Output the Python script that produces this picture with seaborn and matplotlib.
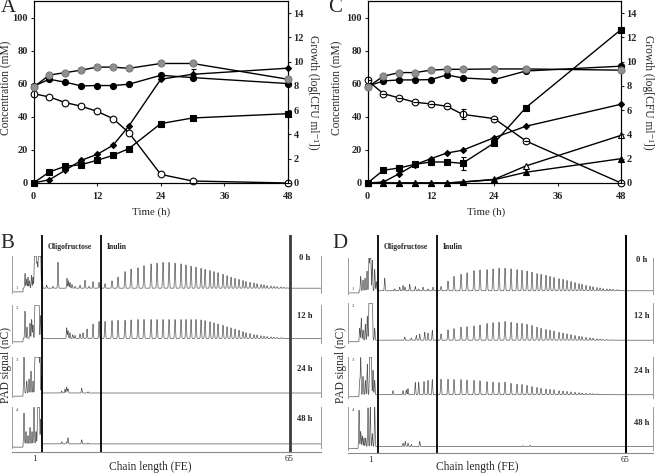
import numpy as np
import pandas as pd
import matplotlib
matplotlib.use("Agg")
import matplotlib.pyplot as plt
import seaborn as sns

sns.set_style("ticks")
plt.rcParams['font.family'] = ['Liberation Serif', 'DejaVu Serif']

# ---------------- kinetics data (panels A and C) ----------------
time_h = [0, 3, 6, 9, 12, 15, 18, 24, 30, 48]
time_ticks = [0, 12, 24, 36, 48]
conc_ticks = [0, 20, 40, 60, 80, 100]
growth_ticks = [0, 2, 4, 6, 8, 10, 12, 14]

A_growth = [7.9, 8.9, 9.1, 9.3, 9.55, 9.55, 9.45, 9.85, 9.85, 8.55]
A_circle = [58.5, 62.7, 60.9, 58.7, 58.9, 58.9, 59.7, 65.1, 63.7, 60.1]
A_square = [0, 6.7, 10.1, 11.1, 13.7, 16.7, 20.8, 35.9, 39.3, 41.9]
A_diamond = [0, 2.0, 7.7, 13.7, 17.3, 22.8, 34.5, 62.7, 65.7, 69.4]
A_open = [54, 52, 48.6, 46.4, 43.3, 38.9, 30.4, 5.2, 1.2, 0]
A_diamond_err = [0, 0, 0, 0, 0, 0, 0, 0, 3.0, 0]

C_growth = [7.9, 8.8, 9.1, 9.1, 9.3, 9.37, 9.37, 9.4, 9.4, 9.3]
C_circle = [58.5, 61.7, 62.3, 62.3, 62.5, 65.3, 63.5, 62.5, 67.7, 70.6]
C_open = [62, 54, 51.4, 48.8, 47.8, 46.4, 41.5, 38.9, 25.4, 0]
C_square = [0, 7.7, 9.1, 11.3, 12.7, 12.7, 11.9, 24.2, 45.6, 92.7]
C_diamond = [0, 0.6, 5.6, 11.1, 14.7, 18.1, 19.8, 27.4, 34.3, 47.6]
C_open_tri = [0, 0, 0, 0, 0, 0, 0.6, 2.2, 10.3, 28.8]
C_tri = [0, 0, 0, 0, 0, 0, 0.6, 2.0, 6.5, 14.7]
C_open_err = [0, 0, 0, 0, 0, 0, 3.0, 0, 0, 0]
C_square_err = [0, 0, 0, 0, 0, 0, 4.0, 0, 0, 0]

# ---------------- chromatogram data (panels B and D) ----------------
# retention coordinate (arbitrary units), chain-length marks
fe_tick_pos = [22.5, 277.5]
fe_tick_labels = ['1', '65']
boundary_pos = [30, 89, 277.5]
time_labels = ['0 h', '12 h', '24 h', '48 h']

inulin_pos = [93, 100, 106, 113, 119, 126, 132, 139, 145, 151, 157, 163, 169, 174,
              179, 184, 189, 193, 198, 202, 206, 211, 215, 219, 223, 227, 231, 234,
              238, 242, 245, 249, 252, 255, 259, 262, 265, 269, 272, 275]

B0_inulin = [0.12, 0.2, 0.3, 0.45, 0.52, 0.55, 0.61, 0.66, 0.68, 0.7, 0.7, 0.68, 0.66,
             0.63, 0.6, 0.57, 0.54, 0.51, 0.48, 0.45, 0.42, 0.38, 0.34, 0.3, 0.27, 0.24,
             0.21, 0.18, 0.16, 0.14, 0.12, 0.1, 0.09, 0.07, 0.06, 0.05, 0.04, 0.03, 0.02, 0.01]
B12_inulin = [0.45, 0.47, 0.48, 0.48, 0.49, 0.5, 0.5, 0.5, 0.5, 0.5, 0.5, 0.5, 0.5, 0.5,
              0.5, 0.5, 0.49, 0.47, 0.44, 0.41, 0.38, 0.35, 0.31, 0.28, 0.25, 0.22, 0.18,
              0.15, 0.13, 0.1, 0.09, 0.07, 0.06, 0.05, 0.04, 0.03, 0.025, 0.02, 0.01, 0.005]
D0_inulin = [0.12, 0.27, 0.4, 0.46, 0.5, 0.56, 0.58, 0.59, 0.61, 0.63, 0.63, 0.61, 0.59,
             0.57, 0.55, 0.52, 0.48, 0.46, 0.43, 0.4, 0.37, 0.34, 0.32, 0.29, 0.26, 0.23,
             0.2, 0.18, 0.15, 0.13, 0.11, 0.09, 0.08, 0.06, 0.05, 0.05, 0.04, 0.03, 0.02, 0.01]
D12_inulin = [0.16, 0.26, 0.29, 0.33, 0.34, 0.36, 0.38, 0.42, 0.44, 0.45, 0.47, 0.45, 0.43,
              0.42, 0.4, 0.37, 0.33, 0.3, 0.27, 0.25, 0.23, 0.2, 0.18, 0.16, 0.14, 0.12,
              0.1, 0.09, 0.07, 0.06, 0.05, 0.035, 0.03, 0.02, 0.015, 0.01, 0.01, 0.005, 0, 0]
D24_inulin = [0.38, 0.38, 0.37, 0.37, 0.36, 0.35, 0.34, 0.32, 0.31, 0.3, 0.31, 0.28, 0.26,
              0.25, 0.23, 0.2, 0.18, 0.16, 0.14, 0.13, 0.12, 0.1, 0.09, 0.08, 0.07, 0.06,
              0.05, 0.04, 0.035, 0.03, 0.025, 0.02, 0.015, 0.01, 0.005, 0.005, 0, 0, 0, 0]

B0_minor_pos = [13, 14.5, 16, 17.5, 19.5, 21, 22.5, 23.3, 24, 24.8, 25.5, 26.5, 27.2, 27.9,
                28.6, 30, 34.7, 41, 46, 55, 56.5, 58, 60, 63, 68, 73, 77, 81, 87]
B0_minor_h = [0.4, 0.25, 0.3, 0.2, 0.35, 0.3, 0.95, 0.95, 0.95, 0.5, 0.6, 0.95, 0.95, 0.95,
              0.95, 0.5, 0.08, 0.05, 0.7, 0.27, 0.2, 0.15, 0.1, 0.05, 0.08, 0.22, 0.05, 0.18, 0.16]
B12_minor_pos = [13, 15, 18, 19.7, 21, 23, 23.8, 24.6, 25.4, 26.2, 27, 28.7, 30,
                 54.7, 56, 58, 60.7, 63, 68, 71, 75, 81, 87]
B12_minor_h = [0.72, 0.3, 0.4, 0.5, 0.35, 1, 1, 1, 1, 1, 1, 0.6, 0.3,
               0.28, 0.2, 0.15, 0.1, 0.08, 0.12, 0.15, 0.25, 0.38, 0.45]
B24_minor_pos = [12, 14.7, 17, 19, 21, 23, 23.8, 24.6, 25.4, 26.2, 27, 28, 29.7,
                 49.7, 53, 54.7, 56, 69.7, 76]
B24_minor_h = [0.92, 0.3, 0.35, 0.55, 0.3, 1, 1, 1, 1, 1, 1, 1, 0.4,
               0.05, 0.1, 0.15, 0.1, 0.12, 0.03]
B48_minor_pos = [12, 14, 16, 18, 20, 22, 24, 25.7, 26.5, 27.3, 28.7, 49.7, 54.7, 56, 69.7, 76]
B48_minor_h = [0.75, 0.3, 0.2, 0.4, 0.3, 0.9, 0.3, 1, 1, 1, 0.6, 0.05, 0.05, 0.15, 0.1, 0.02]

D0_minor_pos = [12.7, 15, 17, 19, 21, 22, 22.7, 24.3, 26.7, 28.3,
                30, 36.7, 46.7, 51.7, 55, 57, 61.7, 67.3, 70.7, 75, 80, 85]
D0_minor_h = [0.4, 0.3, 0.35, 0.55, 1, 1, 1, 0.85, 0.6, 0.25,
              0.1, 0.35, 0.05, 0.1, 0.15, 0.1, 0.18, 0.12, 0.05, 0.1, 0.05, 0.1]
D12_minor_pos = [11.7, 13.3, 15, 17.3, 19.3, 21, 21.8, 22.7, 23.5, 24.3, 26.7,
                 56.7, 63.3, 68.3, 71.7, 76.7, 80, 84.3]
D12_minor_h = [0.3, 0.55, 0.25, 0.4, 0.6, 1, 1, 1, 1, 1, 0.3,
               0.08, 0.05, 0.12, 0.15, 0.2, 0.18, 0.25]
D24_minor_pos = [11.7, 12.7, 15, 17.3, 19.3, 21.7, 22.5, 23.3, 25, 26.7,
                 45, 55, 58.3, 60, 67.3, 70.7, 76, 80, 84.3]
D24_minor_h = [0.35, 0.9, 0.45, 0.35, 0.75, 1, 1, 1, 0.6, 0.35,
               0.1, 0.1, 0.12, 0.15, 0.3, 0.3, 0.32, 0.35, 0.37]
D48_minor_pos = [11, 12.7, 14.3, 16, 17.7, 20, 22.3, 24.3, 26.7, 55, 57.3, 60, 63.3, 71.7, 175, 182]
D48_minor_h = [0.85, 0.35, 0.25, 0.2, 0.2, 0.9, 0.95, 0.3, 0.95, 0.08, 0.12, 0.08, 0.05, 0.12, 0.02, 0.03]

B_base_lo = [0.03, 0.03, 0.02, 0.02]
B_base_hi = [0.13, 0.12, 0.1, 0.1]
D_base_lo = [0.03, 0.03, 0.03, 0.03]
D_base_hi = [0.09, 0.07, 0.08, 0.08]

# ---------------- figure ----------------
W, H = 656, 473
fig = plt.figure(figsize=(W / 100, H / 100), dpi=100)


def rect(x0, y0, x1, y1):
    return [x0 / W, 1 - y1 / H, (x1 - x0) / W, (y1 - y0) / H]


def kinetics_panel(px, conc_series, growth, errs, letter, letter_px, lab_px):
    ax = fig.add_axes(rect(*px))
    ax2 = ax.twinx()
    for vals, mk, ms, fc in conc_series:
        sns.lineplot(x=time_h, y=vals, ax=ax, color='black', lw=1.0, marker=mk,
                     markersize=ms, markerfacecolor=fc, markeredgecolor='black',
                     markeredgewidth=0.8, clip_on=False, zorder=3, estimator=None)
    for vals, err in errs:
        ax.errorbar(time_h, vals, yerr=err, fmt='none', ecolor='black', elinewidth=0.8,
                    capsize=1.8, capthick=0.8, zorder=4)
    sns.lineplot(x=time_h, y=growth, ax=ax2, color='black', lw=1.0, marker='o',
                 markersize=5.2, markerfacecolor='#8f8f8f', markeredgecolor='#6f6f6f',
                 markeredgewidth=0.6, clip_on=False, zorder=3, estimator=None)
    ax.set_xlim(0, 48)
    ax.set_ylim(0, 110)
    ax2.set_ylim(0, 15)
    ax.set_xticks(time_ticks)
    ax.set_yticks(conc_ticks)
    ax2.set_yticks(growth_ticks)
    for a in (ax, ax2):
        a.tick_params(direction='out', length=2.5, width=0.8, labelsize=7.5, pad=1.5)
        for s in a.spines.values():
            s.set_linewidth(0.8)
            s.set_color('black')
        for lab in a.get_xticklabels() + a.get_yticklabels():
            lab.set_fontweight('bold')
    ax.tick_params(axis='x', pad=4)
    ax.set_xlabel('')
    ax.set_ylabel('')
    ax2.set_ylabel('')
    fig.text(letter_px[0] / W, 1 - letter_px[1] / H, letter, fontsize=15,
             ha='center', va='center')
    fig.text(lab_px[0] / W, 1 - 88 / H, 'Concentration (mM)', fontsize=8.3,
             rotation=90, ha='center', va='center')
    fig.text(lab_px[1] / W, 1 - 92 / H, 'Growth (log[CFU ml⁻¹])', fontsize=8.3,
             rotation=270, ha='center', va='center')
    fig.text(lab_px[2] / W, 1 - 212 / H, 'Time (h)', fontsize=7.8,
             ha='center', va='center')


kinetics_panel((33.5, 1, 288, 183),
               [(A_open, 'o', 4.8, 'white'), (A_square, 's', 4.4, 'black'),
                (A_diamond, 'D', 3.1, 'black'), (A_circle, 'o', 4.4, 'black')],
               A_growth, [(A_diamond, A_diamond_err)], 'A', (8, 8), (6, 313, 151))
kinetics_panel((367.5, 1, 621, 183),
               [(C_open, 'o', 4.8, 'white'), (C_square, 's', 4.4, 'black'),
                (C_diamond, 'D', 3.1, 'black'), (C_open_tri, '^', 4.5, 'white'),
                (C_tri, '^', 4.5, 'black'), (C_circle, 'o', 4.4, 'black')],
               C_growth, [(C_open, C_open_err), (C_square, C_square_err)], 'C', (335, 8),
               (337, 648, 486))

u = np.arange(0, 310, 0.08)


def build_signal(inulin_h, minor_pos, minor_h, lo, hi):
    sig = np.where(u < 11, lo, hi).astype(float)
    if inulin_h is not None:
        for p, h in zip(inulin_pos, inulin_h):
            sig += h * np.exp(-0.5 * ((u - p) / 0.42) ** 2)
    for p, h in zip(minor_pos, minor_h):
        sig += h * np.exp(-0.5 * ((u - p) / 0.36) ** 2)
    return np.minimum(sig, 0.995)


def chrom_panel(x0, x1, segs, traces, base_lo, base_hi, ytop, yaxis, letter, letter_px,
                label_x, xlab_x, tlab_x, line3_color, line3_w, tlab_y):
    xmax = x1 - x0
    for i, ((st, sb), (inh, mp, mh)) in enumerate(zip(segs, traces)):
        sax = fig.add_axes(rect(x0, st, x1, sb))
        sig = build_signal(inh, mp, mh, base_lo[i], base_hi[i])
        sns.lineplot(x=u, y=sig, ax=sax, color='#575757', lw=0.5, estimator=None,
                     sort=False)
        sax.set_xlim(0, xmax)
        sax.set_ylim(0, 1)
        sax.set_xticks([])
        sax.set_yticks([])
        sax.set_xlabel('')
        sax.set_ylabel('')
        sax.patch.set_visible(False)
        sax.spines['top'].set_visible(False)
        sax.spines['bottom'].set_visible(False)
        for s in ('left', 'right'):
            sax.spines[s].set_color('#9a9a9a')
            sax.spines[s].set_linewidth(0.7)
        sax.text(0.012, 0.97 if i else 0.08, str(i + 1), transform=sax.transAxes,
                 fontsize=3.5, color='#444', ha='left', va='top' if i else 'bottom')
        fig.text(tlab_x / W, 1 - tlab_y[i] / H, time_labels[i], fontsize=6.2,
                 fontweight='bold', ha='center', va='center')
    over = fig.add_axes(rect(x0, ytop, x1, yaxis))
    over.patch.set_visible(False)
    over.set_xlim(0, xmax)
    over.set_ylim(0, 1)
    for s in ('top', 'left', 'right'):
        over.spines[s].set_visible(False)
    over.spines['bottom'].set_color('#8a8a8a')
    over.spines['bottom'].set_linewidth(0.8)
    over.set_yticks([])
    over.set_xticks(fe_tick_pos)
    over.set_xticklabels(fe_tick_labels)
    over.tick_params(axis='x', length=0, labelsize=6.3, pad=2)
    over.axvline(boundary_pos[0], color='black', lw=1.3)
    over.axvline(boundary_pos[1], color='black', lw=1.3)
    over.axvline(boundary_pos[2], color=line3_color, lw=line3_w)
    over.text(boundary_pos[0] + 6, 0.945, 'Oligofructose', fontsize=5.6,
              fontweight='bold', ha='left', va='center')
    over.text(boundary_pos[1] + 6, 0.945, 'Inulin', fontsize=5.6,
              fontweight='bold', ha='left', va='center')
    fig.text(letter_px[0] / W, 1 - letter_px[1] / H, letter, fontsize=15,
             ha='center', va='center')
    fig.text(label_x / W, 1 - 365 / H, 'PAD signal (nC)', fontsize=8.3,
             rotation=90, ha='center', va='center')
    fig.text(xlab_x / W, 1 - 467 / H, 'Chain length (FE)', fontsize=8.3,
             ha='center', va='center')


B_traces = [(B0_inulin, B0_minor_pos, B0_minor_h), (B12_inulin, B12_minor_pos, B12_minor_h),
            (None, B24_minor_pos, B24_minor_h), (None, B48_minor_pos, B48_minor_h)]
D_traces = [(D0_inulin, D0_minor_pos, D0_minor_h), (D12_inulin, D12_minor_pos, D12_minor_h),
            (D24_inulin, D24_minor_pos, D24_minor_h), (None, D48_minor_pos, D48_minor_h)]

chrom_panel(12, 321, [(256, 293), (305, 343), (357, 397), (407, 448)], B_traces,
            B_base_lo, B_base_hi, 235, 452, 'B', (7, 243), 6, 150, 305, '#3c3c3c', 2.0,
            [258, 316, 369, 419])
chrom_panel(348, 653, [(258, 294), (303, 343), (357, 398), (407, 450)], D_traces,
            D_base_lo, D_base_hi, 235, 453, 'D', (340, 244), 341, 477, 642, 'black', 1.4,
            [260, 316, 371, 423])

fig.savefig('out.png', dpi=100)
